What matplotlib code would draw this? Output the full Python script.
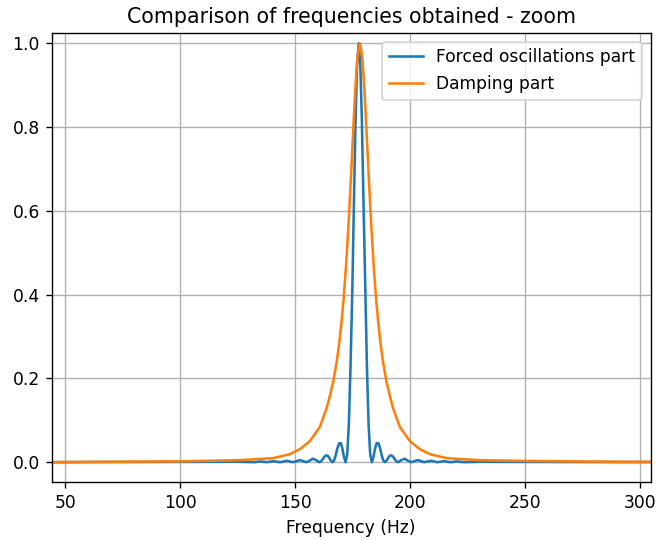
import matplotlib
matplotlib.use("Agg")
import matplotlib.pyplot as plt

# forced oscillations part (normalised spectrum)
forced_freq = [44, 60, 80, 100, 115, 125,
               132.1, 135.0, 137.8, 140.7, 143.5, 146.4, 149.2, 152.1, 154.9,
               156.3, 157.8, 159.2, 160.6, 161.3, 162.0, 162.7, 163.5, 164.2,
               164.9, 165.6, 166.3, 167.0, 167.7, 168.4, 169.2, 169.9, 170.6,
               171.3, 172.0, 172.7, 173.4, 174.1, 174.9, 175.6, 176.3, 177.0,
               177.7,
               178.4, 179.1, 179.8, 180.6, 181.3, 182.0, 182.7, 183.4, 184.1,
               184.8, 185.5, 186.3, 187.0, 187.7, 188.4, 189.1, 189.8, 190.5,
               191.2, 192.0, 192.7, 193.4, 194.1, 194.8, 196.2, 197.7, 199.1,
               200.5, 203.4, 206.2, 209.1, 211.9, 214.8, 217.6, 220.5, 223.3,
               230, 250, 280, 305]
forced_amp = [0.0, 0.0003, 0.0005, 0.0007, 0.001, 0.0012,
              0.0, 0.0018, 0.0, 0.0024, 0.0, 0.0033, 0.0, 0.005, 0.0,
              0.0036, 0.0083, 0.0048, 0.0, 0.0018, 0.0067, 0.0126, 0.0162, 0.0153,
              0.0100, 0.0033, 0.0, 0.0042, 0.0165, 0.0328, 0.0450, 0.0457, 0.0324,
              0.0117, 0.0, 0.019, 0.090, 0.221, 0.405, 0.615, 0.811, 0.950,
              1.0,
              0.950, 0.811, 0.615, 0.405, 0.221, 0.090, 0.019, 0.0, 0.0117,
              0.0324, 0.0457, 0.0450, 0.0328, 0.0165, 0.0042, 0.0, 0.0033, 0.0100,
              0.0153, 0.0162, 0.0126, 0.0067, 0.0018, 0.0, 0.0048, 0.0083, 0.0036,
              0.0, 0.005, 0.0, 0.0033, 0.0, 0.0024, 0.0, 0.0018, 0.0,
              0.001, 0.0007, 0.0004, 0.0002]

# damping part (normalised spectrum)
damping_freq = [44, 70, 100, 126.0, 140.4, 147.7, 152.1, 156.4, 160.8, 163.7,
                165.2, 166.7, 168.2, 169.2, 170.2, 171.2, 172.2, 173.2, 174.2,
                175.2, 176.2, 177.2, 178.2, 179.2, 180.2, 181.2, 182.2, 183.2,
                184.2, 185.2, 186.2, 187.2, 188.2, 189.7, 191.2, 192.7, 195.6,
                200.0, 204.3, 208.7, 216.0, 230.4, 250, 270, 290, 305]
damping_amp = [0.0, 0.001, 0.002, 0.0048, 0.0095, 0.019, 0.031, 0.050, 0.084, 0.128,
               0.159, 0.194, 0.242, 0.283, 0.333, 0.394, 0.470, 0.561, 0.666,
               0.780, 0.889, 0.970, 1.0, 0.970, 0.889, 0.780, 0.666, 0.561,
               0.470, 0.394, 0.333, 0.283, 0.242, 0.194, 0.159, 0.128, 0.084,
               0.050, 0.031, 0.019, 0.0095, 0.0048, 0.003, 0.002, 0.001, 0.001]

# reference was rendered with everything ~1.23x bigger, so use a higher dpi
dpi = 123
fig = plt.figure(figsize=(658 / dpi, 540 / dpi), dpi=dpi)
ax = fig.add_axes([0.0786, 0.1069, 0.9104, 0.832])

ax.plot(forced_freq, forced_amp, color="tab:blue", lw=1.5, label="Forced oscillations part")
ax.plot(damping_freq, damping_amp, color="tab:orange", lw=1.5, label="Damping part")

ax.set_xlim(44.2, 304.7)
ax.set_ylim(-0.048, 1.025)
ax.set_xticks([50, 100, 150, 200, 250, 300])
ax.set_yticks([0.0, 0.2, 0.4, 0.6, 0.8, 1.0])
ax.grid(True)
ax.set_xlabel("Frequency (Hz)")
ax.set_title("Comparison of frequencies obtained - zoom")
ax.legend(loc="upper right")

fig.savefig("out.png", dpi=dpi)
